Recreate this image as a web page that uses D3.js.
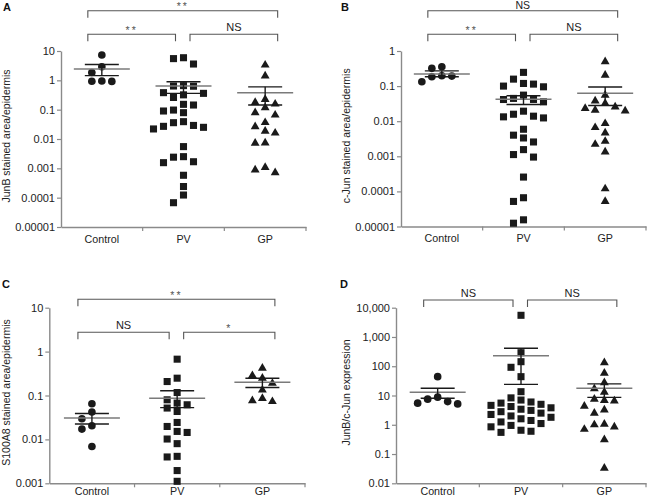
<!DOCTYPE html>
<html><head><meta charset="utf-8">
<script src="https://cdn.jsdelivr.net/npm/d3@7"></script>
<style>
body{margin:0;background:#fff}
svg{display:block;background:#fff}
text{font-family:"Liberation Sans",Arial,sans-serif}
</style>
</head><body>
<svg id="chart" width="647" height="499"></svg>
<script>
const categories = ["Control", "PV", "GP"];

// Panel A: JunB stained area/epidermis
const junbControl = [7.3, 2.9, 1.85, 0.95, 0.93, 0.92];
const junbPV = [5.9, 5.5, 3.6, 0.66, 0.64, 0.63, 0.38, 0.36, 0.32, 0.26, 0.152, 0.144, 0.097, 0.09, 0.079,
  0.039, 0.036, 0.029, 0.027, 0.025, 0.022, 0.0055, 0.0025, 0.0024, 0.00168, 0.00156, 0.00058, 0.00024, 0.000123, 0.0000673];
const junbGP = [3.33, 1.41, 0.225, 0.178, 0.156, 0.117, 0.0787, 0.0657, 0.0365, 0.0262, 0.0184, 0.016, 0.0074, 0.0072, 0.00108, 0.00088, 0.00071];
const junbMean = [2.45, 0.64, 0.375];
const junbSemHigh = [3.45, 0.9, 0.6];
const junbSemLow = [1.45, 0.36, 0.145];
const junbTicks = [10, 1, 0.1, 0.01, 0.001, 0.0001, 0.00001];
const junbTickLabels = ["10", "1", "0.1", "0.01", "0.001", "0.0001", "0.00001"];
const junbBrackets = [["Control", "GP", "**", 0], ["Control", "PV", "**", 1], ["PV", "GP", "NS", 1]];

// Panel B: c-Jun stained area/epidermis
const cjunControl = [0.356, 0.32, 0.197, 0.193, 0.185, 0.133];
const cjunPV = [0.246, 0.158, 0.119, 0.114, 0.1, 0.0955, 0.0553, 0.0446, 0.0417, 0.0415, 0.0356,
  0.0193, 0.0158, 0.0139, 0.0133, 0.0124, 0.0059, 0.004, 0.00333, 0.00256, 0.00155, 0.00112, 0.00095,
  0.000256, 0.000066, 0.0000518, 0.0000155, 0.0000124];
const cjunGP = [0.495, 0.206, 0.0553, 0.038, 0.032, 0.0256, 0.0231, 0.0206, 0.0197, 0.0086, 0.0066, 0.00463, 0.00268, 0.0022, 0.00133, 0.000119, 0.0000518];
const cjunMean = [0.222, 0.042, 0.063];
const cjunSemHigh = [0.272, 0.053, 0.094];
const cjunSemLow = [0.184, 0.030, 0.028];
const cjunTicks = [1, 0.1, 0.01, 0.001, 0.0001, 0.00001];
const cjunTickLabels = ["1", "0.1", "0.01", "0.001", "0.0001", "0.00001"];
const cjunBrackets = [["Control", "GP", "NS", 0], ["Control", "PV", "**", 1], ["PV", "GP", "NS", 1]];

// Panel C: S100A8 stained area/epidermis
const s100Control = [0.0648, 0.042, 0.0295, 0.0205, 0.0172, 0.0069];
const s100PV = [0.672, 0.248, 0.208, 0.117, 0.0798, 0.0671, 0.0615, 0.0518, 0.0433, 0.0243, 0.0197,
  0.0152, 0.0144, 0.0102, 0.008, 0.00411, 0.00398, 0.00195, 0.00111];
const s100GP = [0.42, 0.285, 0.248, 0.19, 0.133, 0.0855, 0.076, 0.073];
const s100Mean = [0.0306, 0.087, 0.2];
const s100SemHigh = [0.039, 0.128, 0.248];
const s100SemLow = [0.0224, 0.053, 0.152];
const s100Ticks = [10, 1, 0.1, 0.01, 0.001];
const s100TickLabels = ["10", "1", "0.1", "0.01", "0.001"];
const s100Brackets = [["Control", "GP", "**", 0], ["Control", "PV", "NS", 1], ["PV", "GP", "*", 1]];

// Panel D: JunB/c-Jun expression
const ratioControl = [44, 8.75, 7.5, 6.2, 5.46, 5.17];
const ratioPV = [5500, 290, 143, 92, 44, 13.5, 8.3, 7.0, 6.0, 5.5, 5.0, 4.6, 4.2, 3.8, 3.4, 3.1, 2.8,
  2.5, 2.25, 2.0, 1.8, 1.6, 1.4, 1.25, 1.1, 0.95, 0.85, 0.65, 0.6, 0.55];
const ratioGP = [133, 58, 27.5, 17, 13, 7.5, 6.8, 6.5, 4.3, 3.2, 2.5, 1.05, 1.0, 0.85, 0.7, 0.31, 0.033];
const ratioMean = [12.9, 230, 17.7];
const ratioSemHigh = [17.7, 410, 25];
const ratioSemLow = [8.1, 24, 8.6];
const ratioTicks = [10000, 1000, 100, 10, 1, 0.1, 0.01];
const ratioTickLabels = ["10,000", "1,000", "100", "10", "1", "0.1", "0.01"];
const ratioBrackets = [["Control", "PV", "NS", 1], ["PV", "GP", "NS", 1]];

const panels = [
  {letter: "A", title: "JunB stained area/epidermis", groups: [junbControl, junbPV, junbGP],
   mean: junbMean, hi: junbSemHigh, lo: junbSemLow, ticks: junbTicks, tickLabels: junbTickLabels, brackets: junbBrackets,
   box: {x0: 61, x1: 306, yTop: 51, yBot: 227}, letterPos: [3, 11], titleX: 9.5, bracketY: [10.7, 34.3], labelPad: 8},
  {letter: "B", title: "c-Jun stained area/epidermis", groups: [cjunControl, cjunPV, cjunGP],
   mean: cjunMean, hi: cjunSemHigh, lo: cjunSemLow, ticks: cjunTicks, tickLabels: cjunTickLabels, brackets: cjunBrackets,
   box: {x0: 401, x1: 646, yTop: 51, yBot: 226.5}, letterPos: [341, 11], titleX: 350, bracketY: [10.7, 34.3], labelPad: 8},
  {letter: "C", title: "S100A8 stained area/epidermis", groups: [s100Control, s100PV, s100GP],
   mean: s100Mean, hi: s100SemHigh, lo: s100SemLow, ticks: s100Ticks, tickLabels: s100TickLabels, brackets: s100Brackets,
   box: {x0: 49.3, x1: 305, yTop: 307.7, yBot: 483.3}, letterPos: [2, 287.5], titleX: 10, bracketY: [299.3, 332.3], labelPad: 4.5},
  {letter: "D", title: "JunB/c-Jun expression", groups: [ratioControl, ratioPV, ratioGP],
   mean: ratioMean, hi: ratioSemHigh, lo: ratioSemLow, ticks: ratioTicks, tickLabels: ratioTickLabels, brackets: ratioBrackets,
   box: {x0: 396, x1: 646, yTop: 307.7, yBot: 483.3}, letterPos: [340, 287.5], titleX: 350, bracketY: [267, 300], labelPad: 4.5}
];

const svg = d3.select("#chart");
const shapes = [d3.symbolCircle, d3.symbolSquare, d3.symbolTriangle];
const shapeSizes = [46, 50, 34];
const AXIS = "#8a8a8a", INK = "#1a1a1a", TXT = "#222";

function swarm(values, yScale, minD) {
  const pts = values.map((v, i) => ({v, y: yScale(v), i}));
  const sorted = [...pts].sort((a, b) => a.y - b.y);
  const order = [0, -1, 1, -2, 2, -3, 3, -4, 4, -5, 5];
  const placed = [];
  sorted.forEach(p => {
    for (const s of order) {
      if (!placed.some(q => q.slot === s && Math.abs(q.y - p.y) < minD)) {
        p.slot = s; placed.push(p); break;
      }
    }
  });
  return pts;
}

panels.forEach(p => {
  const g = svg.append("g");
  const b = p.box;
  const y = d3.scaleLog().domain([d3.min(p.ticks), d3.max(p.ticks)]).range([b.yBot, b.yTop]);
  const x = d3.scaleBand().domain(categories).range([b.x0, b.x1]).paddingInner(0).paddingOuter(0);
  const bw = x.bandwidth();
  const cx = c => x(c) + bw / 2;

  // y axis
  const ya = g.append("g").attr("transform", `translate(${b.x0},0)`)
    .call(d3.axisLeft(y).tickValues(p.ticks)
      .tickFormat(d => p.tickLabels[p.ticks.indexOf(d)])
      .tickSize(4).tickSizeOuter(0).tickPadding(2));
  ya.attr("font-family", null).attr("font-size", null);
  ya.select(".domain").attr("stroke", AXIS).attr("stroke-width", 1.4);
  ya.selectAll(".tick line").attr("stroke", AXIS).attr("stroke-width", 1.2);
  ya.selectAll(".tick text").attr("font-size", 11).attr("fill", TXT);

  // x axis
  const xa = g.append("g").attr("transform", `translate(0,${b.yBot})`)
    .call(d3.axisBottom(x).tickSize(0).tickSizeOuter(0).tickPadding(p.labelPad));
  xa.attr("font-family", null).attr("font-size", null);
  xa.select(".domain").attr("stroke", AXIS).attr("stroke-width", 1.4);
  xa.selectAll(".tick text").attr("font-size", 10.7).attr("fill", TXT);
  categories.forEach(c => {
    g.append("line").attr("x1", x(c) + bw).attr("x2", x(c) + bw)
      .attr("y1", b.yBot).attr("y2", b.yBot + 4)
      .attr("stroke", AXIS).attr("stroke-width", 1.2);
  });

  // y title
  g.append("text")
    .attr("transform", `translate(${p.titleX},${(b.yTop + b.yBot) / 2 - 3}) rotate(-90)`)
    .attr("text-anchor", "middle").attr("font-size", 10.5).attr("fill", TXT)
    .text(p.title);

  // panel letter
  g.append("text").attr("x", p.letterPos[0]).attr("y", p.letterPos[1])
    .attr("font-size", 11).attr("font-weight", "bold").attr("fill", "#111").text(p.letter);

  // points
  const step = 10;
  p.groups.forEach((vals, gi) => {
    const c = categories[gi];
    const pts = swarm(vals, y, 8.2);
    g.append("g").selectAll("path").data(pts).join("path")
      .attr("d", d3.symbol().type(shapes[gi]).size(shapeSizes[gi]))
      .attr("transform", d => `translate(${cx(c) + d.slot * step},${y(d.v)})`)
      .attr("fill", INK);
  });

  // mean and SEM
  categories.forEach((c, i) => {
    const xc = cx(c);
    g.append("line").attr("x1", xc - 28).attr("x2", xc + 28)
      .attr("y1", y(p.mean[i])).attr("y2", y(p.mean[i]))
      .attr("stroke", "#7a7a7a").attr("stroke-width", 1.5);
    g.append("line").attr("x1", xc).attr("x2", xc)
      .attr("y1", y(p.hi[i])).attr("y2", y(p.lo[i]))
      .attr("stroke", INK).attr("stroke-width", 1.4);
    [p.hi[i], p.lo[i]].forEach(v => {
      g.append("line").attr("x1", xc - 17).attr("x2", xc + 17)
        .attr("y1", y(v)).attr("y2", y(v))
        .attr("stroke", INK).attr("stroke-width", 1.4);
    });
  });

  // significance brackets
  p.brackets.forEach(([a, bb, lab, lvl]) => {
    const ia = categories.indexOf(a), ib = categories.indexOf(bb);
    const xl = ia === 0 ? cx(a) - 14 : cx(a) + 6.5;
    const xr = ib === 2 ? cx(bb) + 12.5 : cx(bb) - 8;
    const yy = p.bracketY[lvl];
    g.append("path")
      .attr("d", `M${xl},${yy + 7}V${yy}H${xr}V${yy + 7}`)
      .attr("fill", "none").attr("stroke", "#555").attr("stroke-width", 1.1);
    const isStar = lab.indexOf("*") >= 0;
    const off = isStar ? 0.5 : (yy < 20 ? 1.6 : 3);
    g.append("text").attr("x", (xl + xr) / 2).attr("y", yy - off)
      .attr("text-anchor", "middle").attr("font-size", isStar ? 10.5 : (yy < 20 ? 10.5 : 11))
      .attr("letter-spacing", isStar ? 2 : 0)
      .attr("fill", isStar ? "#555" : TXT).text(lab);
  });
});
</script>
</body></html>
